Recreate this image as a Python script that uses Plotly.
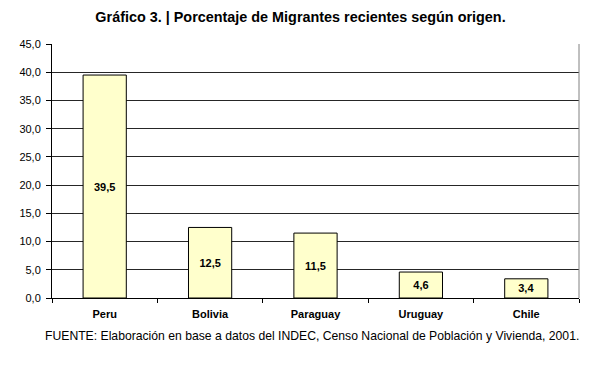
import plotly.graph_objects as go

categories = ["Peru", "Bolivia", "Paraguay", "Uruguay", "Chile"]
values = [39.5, 12.5, 11.5, 4.6, 3.4]
y_ticks = [0, 5, 10, 15, 20, 25, 30, 35, 40, 45]

title_text = "Gráfico 3. | Porcentaje de Migrantes recientes según origen."
source_text = "FUENTE: Elaboración en base a datos del INDEC, Censo Nacional de Población y Vivienda, 2001."

FONT = "Liberation Sans, Arial, sans-serif"

# page body has an 8px default margin; figure sized to fit the window
W, H = 601, 359
OFF = 8
plot_left, plot_right = 52, 579
plot_top, plot_bottom = 44, 298.5
plot_h = plot_bottom - plot_top
plot_w = plot_right - plot_left

fig = go.Figure(
    go.Bar(
        x=categories,
        y=values,
        width=0.41,
        marker=dict(color="#FFFFCC", line=dict(color="#000000", width=1)),
        texttemplate="<b>%{y:.1f}</b>",
        textposition="inside",
        insidetextanchor="middle",
        textangle=0,
        textfont=dict(family=FONT, size=11, color="#000000"),
        hoverinfo="skip",
    )
)

fig.update_layout(
    width=W,
    height=H,
    margin=dict(l=plot_left - OFF, r=OFF + W - plot_right, t=plot_top - OFF,
                b=OFF + H - plot_bottom, autoexpand=False),
    paper_bgcolor="#FFFFFF",
    plot_bgcolor="#FFFFFF",
    separators=",.",
    showlegend=False,
    font=dict(family=FONT, color="#000000"),
    title=dict(
        text="<b>" + title_text + "</b>",
        x=(300.5 - OFF) / W,
        xanchor="center",
        y=1 - (17 - OFF) / H,
        yanchor="middle",
        font=dict(family=FONT, size=14.4, color="#000000"),
    ),
    xaxis=dict(
        type="category",
        showline=True,
        linecolor="#000000",
        linewidth=1,
        ticks="outside",
        tickson="boundaries",
        ticklen=4,
        tickcolor="#000000",
        showgrid=False,
        tickfont=dict(family=FONT, size=11, color="#000000"),
        tickprefix="<b>",
        ticksuffix="</b>",
        ticklabelstandoff=6,
    ),
    yaxis=dict(
        range=[0, 45],
        tickvals=y_ticks,
        tickformat=".1f",
        showline=True,
        linecolor="#000000",
        linewidth=1,
        ticks="outside",
        ticklen=5,
        tickcolor="#000000",
        showgrid=True,
        gridcolor="#262626",
        gridwidth=1,
        zeroline=False,
        tickfont=dict(family=FONT, size=11, color="#000000"),
        ticklabelstandoff=3,
    ),
    shapes=[
        dict(type="line", xref="paper", yref="paper", x0=1, x1=1, y0=0, y1=1,
             line=dict(color="#808080", width=1)),
    ],
    annotations=[
        dict(
            text=source_text,
            xref="paper",
            yref="paper",
            x=(311.5 - plot_left) / plot_w,
            y=-(337 - plot_bottom) / plot_h,
            xanchor="center",
            yanchor="middle",
            showarrow=False,
            font=dict(family=FONT, size=12.2, color="#000000"),
        )
    ],
)

fig.write_html("out.html")
